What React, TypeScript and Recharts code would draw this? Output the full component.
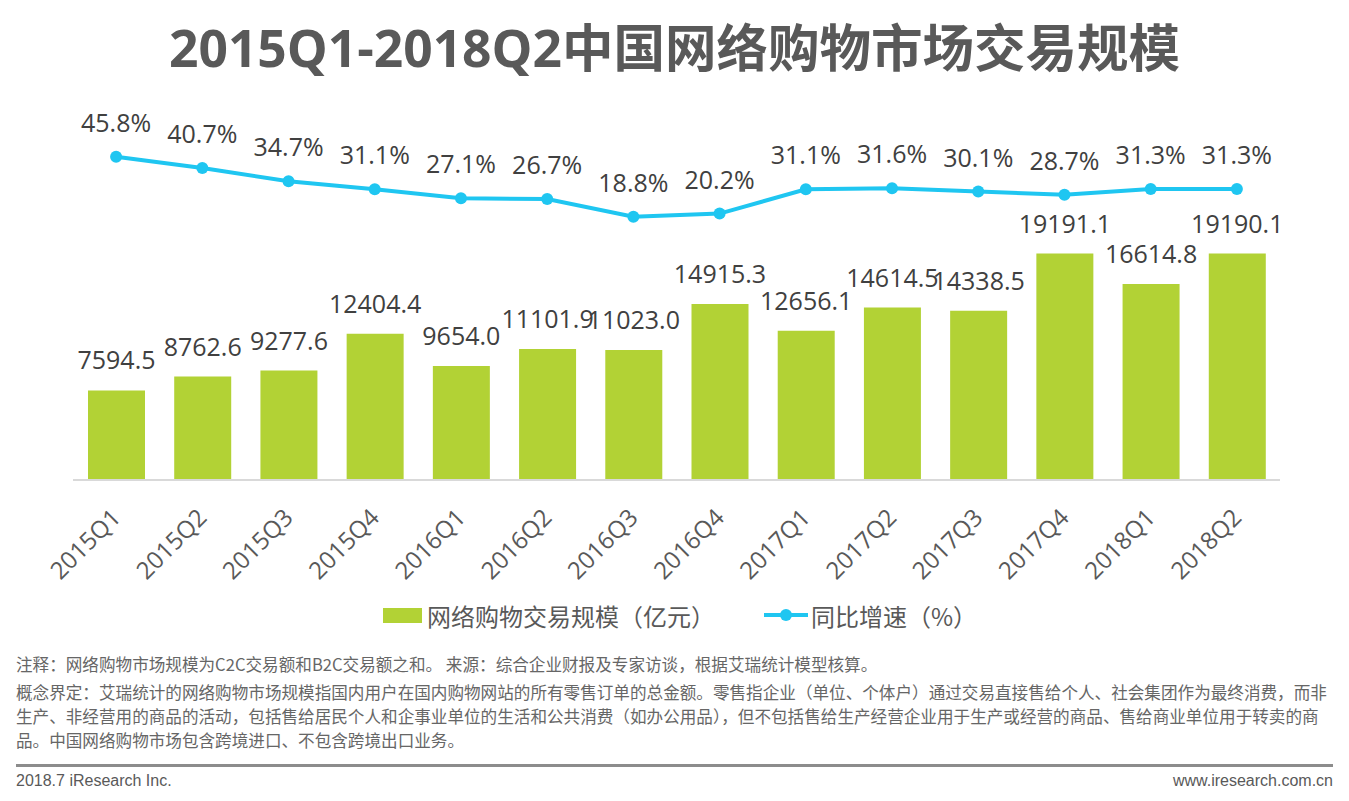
import React from 'react';
import { ComposedChart, Bar, Line, XAxis, YAxis, Legend, LabelList } from 'recharts';

const quarters = ['2015Q1', '2015Q2', '2015Q3', '2015Q4', '2016Q1', '2016Q2', '2016Q3', '2016Q4', '2017Q1', '2017Q2', '2017Q3', '2017Q4', '2018Q1', '2018Q2'];
const tradeScale = [7594.5, 8762.6, 9277.6, 12404.4, 9654.0, 11101.9, 11023.0, 14915.3, 12656.1, 14614.5, 14338.5, 19191.1, 16614.8, 19190.1];
const growthRate = [45.8, 40.7, 34.7, 31.1, 27.1, 26.7, 18.8, 20.2, 31.1, 31.6, 30.1, 28.7, 31.3, 31.3];

const barName = '网络购物交易规模（亿元）';
const lineName = '同比增速（%）';
const title = '2015Q1-2018Q2中国网络购物市场交易规模';
const noteLines = [
  '注释：网络购物市场规模为C2C交易额和B2C交易额之和。 来源：综合企业财报及专家访谈，根据艾瑞统计模型核算。',
  '概念界定：艾瑞统计的网络购物市场规模指国内用户在国内购物网站的所有零售订单的总金额。零售指企业（单位、个体户）通过交易直接售给个人、社会集团作为最终消费，而非',
  '生产、非经营用的商品的活动，包括售给居民个人和企事业单位的生活和公共消费（如办公用品），但不包括售给生产经营企业用于生产或经营的商品、售给商业单位用于转卖的商',
  '品。中国网络购物市场包含跨境进口、不包含跨境出口业务。',
];
const footerLeft = '2018.7 iResearch Inc.';
const footerRight = 'www.iresearch.com.cn';

const data = quarters.map((q, i) => ({ quarter: q, scale: tradeScale[i], growth: growthRate[i] }));

const GREEN = '#b2d235';
const CYAN = '#1fc6f1';
const FONT = "'Open Sans', 'Noto Sans CJK SC', sans-serif";
const CJK = "'Noto Sans CJK SC', 'Open Sans', sans-serif";

const QuarterTick = (props: any) => {
  const { x, y, payload } = props;
  const ax = x + 6;
  const ay = y + 39;
  return (
    <text x={ax} y={ay} transform={`rotate(-45 ${ax} ${ay})`} textAnchor="end" fill="#595959" fontSize={24} fontFamily={FONT}>
      {payload.value}
    </text>
  );
};

const renderLegend = (props: any) => {
  const items = [...(props.payload || [])].sort((a: any, b: any) => (a.type === 'line' ? 1 : 0) - (b.type === 'line' ? 1 : 0));
  return (
    <div style={{ display: 'flex', alignItems: 'center', height: 32, fontFamily: CJK, fontSize: 24, color: '#595959' }}>
      {items.map((entry: any, i: number) => (
        <div key={i} style={{ display: 'flex', alignItems: 'center', marginLeft: i === 0 ? 0 : 49 }}>
          {entry.type === 'line' ? (
            <svg width={44} height={14} style={{ display: 'block' }}>
              <line x1={0} y1={7} x2={44} y2={7} stroke={CYAN} strokeWidth={4} />
              <circle cx={22} cy={7} r={6} fill={CYAN} />
            </svg>
          ) : (
            <div style={{ width: 39, height: 15, background: GREEN }} />
          )}
          <span style={{ marginLeft: entry.type === 'line' ? 3 : 5, whiteSpace: 'nowrap' }}>{entry.value}</span>
        </div>
      ))}
    </div>
  );
};

export default function App() {
  return (
    <div style={{ position: 'absolute', left: 0, top: 0, width: 1349, height: 801, background: '#fff', overflow: 'hidden' }}>
      <div style={{ position: 'absolute', left: 0, top: 16, width: 1349, height: 62, lineHeight: '62px', textAlign: 'center', fontFamily: FONT, fontWeight: 700, fontSize: 51.5, color: '#595959', whiteSpace: 'nowrap' }}>
        {title}
      </div>
      <div style={{ position: 'absolute', left: 0, top: 0 }}>
        <ComposedChart width={1349} height={640} data={data} margin={{ top: 100, right: 69, bottom: 40, left: 73 }}>
          <XAxis dataKey="quarter" height={120} interval={0} tickLine={false} tickSize={0} tickMargin={0} axisLine={{ stroke: '#d9d9d9', strokeWidth: 2 }} tick={<QuarterTick />} />
          <YAxis yAxisId="bar" hide domain={[0, 32203]} />
          <YAxis yAxisId="pct" hide domain={[-99.7, 71.3]} orientation="right" />
          <Legend layout="horizontal" verticalAlign="middle" align="center" content={renderLegend} wrapperStyle={{ top: 599, left: 383, width: 700 }} />
          <Bar yAxisId="bar" dataKey="scale" name={barName} fill={GREEN} barSize={57} isAnimationActive={false} legendType="rect">
            <LabelList dataKey="scale" position="top" offset={21} fill="#404040" fontSize={25} fontFamily={FONT} formatter={(v: any) => Number(v).toFixed(1)} />
          </Bar>
          <Line yAxisId="pct" dataKey="growth" name={lineName} stroke={CYAN} strokeWidth={4} dot={{ r: 6, fill: CYAN, stroke: 'none' }} activeDot={false} isAnimationActive={false} legendType="line">
            <LabelList dataKey="growth" position="top" offset={25} fill="#404040" fontSize={25} fontFamily={FONT} formatter={(v: any) => Number(v).toFixed(1) + '%'} />
          </Line>
        </ComposedChart>
      </div>
      {noteLines.map((t, i) => (
        <div key={i} style={{ position: 'absolute', left: 16, top: [652, 680, 704, 728][i], height: 24, lineHeight: '24px', fontFamily: CJK, fontSize: 16.6, color: '#666', whiteSpace: 'nowrap' }}>
          {t}
        </div>
      ))}
      <div style={{ position: 'absolute', left: 16, top: 764, width: 1317, height: 3, background: '#8c8c8c' }} />
      <div style={{ position: 'absolute', left: 16, top: 771, height: 20, lineHeight: '20px', fontFamily: "'Liberation Sans', Arial, sans-serif", fontSize: 16, color: '#595959', whiteSpace: 'nowrap' }}>
        {footerLeft}
      </div>
      <div style={{ position: 'absolute', right: 16, top: 771, height: 20, lineHeight: '20px', fontFamily: "'Liberation Sans', Arial, sans-serif", fontSize: 16, color: '#595959', whiteSpace: 'nowrap' }}>
        {footerRight}
      </div>
    </div>
  );
}
